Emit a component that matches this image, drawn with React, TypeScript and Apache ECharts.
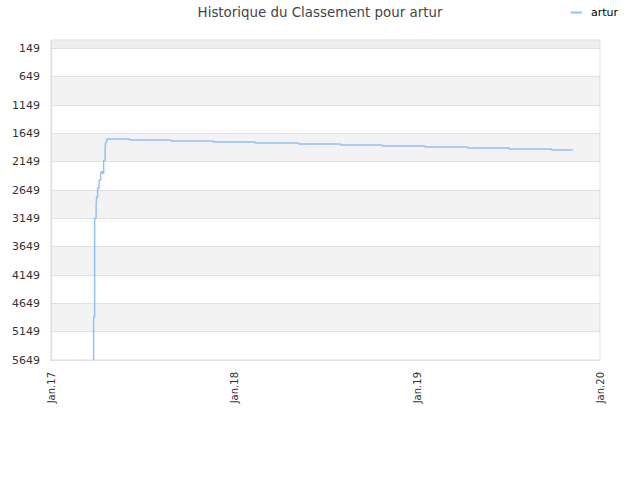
import React, { useEffect, useRef } from "react";
import * as echarts from "echarts";

const dates = [
  "2017-03-27", "2017-03-27", "2017-03-29", "2017-04-01", "2017-04-02", "2017-04-04",
  "2017-04-07", "2017-04-10", "2017-04-11", "2017-04-14", "2017-04-16", "2017-04-19",
  "2017-04-20", "2017-04-22", "2017-06-07", "2017-08-29", "2017-11-21", "2018-02-12",
  "2018-05-10", "2018-08-01", "2018-10-24", "2019-01-17", "2019-04-11", "2019-07-04",
  "2019-09-26", "2019-11-08",
];
const ranks = [
  5649, 4891, 3146, 2917, 2770, 2617,
  2476, 2347, 2326, 2358, 2123, 1912,
  1806, 1748, 1766, 1783, 1801, 1818,
  1836, 1854, 1871, 1889, 1907, 1924,
  1942, 1942,
];
const yTickLabels = [149, 649, 1149, 1649, 2149, 2649, 3149, 3649, 4149, 4649, 5149, 5649];
const yMin = 1;
const xTickLabels = ["Jan.17", "Jan.18", "Jan.19", "Jan.20"];
const xTickDates = ["2017-01-01", "2018-01-01", "2019-01-01", "2020-01-01"];

const FONT = "DejaVu Sans";
const DAY = 86400000;

function dayIndex(d: string): number {
  const [y, m, dd] = d.split("-").map(Number);
  const [y0, m0, d0] = xTickDates[0].split("-").map(Number);
  return Math.round((Date.UTC(y, m - 1, dd) - Date.UTC(y0, m0 - 1, d0)) / DAY);
}

export default function App() {
  const ref = useRef<HTMLDivElement>(null);
  useEffect(() => {
    if (!ref.current) return;
    const chart = echarts.init(ref.current, null, { renderer: "svg" });
    const tickDays = xTickDates.map(dayIndex);
    const bands: any[] = [
      [{ yAxis: yMin, itemStyle: { color: "#eeeeee" } }, { yAxis: yTickLabels[0] }],
    ];
    for (let i = 1; i < yTickLabels.length - 1; i += 2) {
      bands.push([
        { yAxis: yTickLabels[i], itemStyle: { color: "#f3f3f3" } },
        { yAxis: yTickLabels[i + 1] },
      ]);
    }
    const lines = yTickLabels.map((v) => ({ yAxis: v }));
    chart.setOption({
      animation: false,
      textStyle: { fontFamily: FONT },
      title: {
        text: "Historique du Classement pour artur",
        left: "center",
        top: 1,
        textStyle: { fontFamily: FONT, fontSize: 13.4, fontWeight: "normal", color: "#444" },
      },
      legend: {
        right: 17,
        top: 2,
        itemWidth: 11,
        itemHeight: 2,
        textStyle: { fontFamily: FONT, fontSize: 11, color: "#000", padding: [0, 0, 0, 4] },
        data: [{ name: "artur", icon: "rect" }],
      },
      grid: {
        left: 51,
        right: 40,
        top: 40,
        bottom: 120,
        show: true,
        borderColor: "#dddddd",
        borderWidth: 1,
      },
      xAxis: {
        type: "value",
        min: tickDays[0],
        max: tickDays[tickDays.length - 1],
        interval: 365,
        axisLine: { show: true, lineStyle: { color: "#dddddd" } },
        axisTick: { show: false },
        splitLine: { show: false },
        axisLabel: {
          rotate: 90,
          fontSize: 10,
          color: "#333",
          margin: 12,
          showMinLabel: true,
          showMaxLabel: true,
          formatter: (v: number) => {
            const idx = tickDays.findIndex((t) => Math.abs(t - v) < 2);
            return idx >= 0 ? xTickLabels[idx] : "";
          },
        },
      },
      yAxis: {
        type: "value",
        inverse: true,
        min: yMin,
        max: yTickLabels[yTickLabels.length - 1],
        axisLine: { show: true, lineStyle: { color: "#dddddd" } },
        axisTick: { show: false },
        axisLabel: {
          fontSize: 11,
          color: "#333",
          margin: 11,
          customValues: yTickLabels,
          formatter: (v: number) => String(v),
        },
        splitLine: { show: false },
        splitArea: { show: false },
      },
      series: [
        {
          name: "artur",
          type: "line",
          step: "end",
          showSymbol: false,
          symbol: "none",
          color: "#92c1f2",
          lineStyle: { width: 1.5, color: "#92c1f2" },
          data: dates.map((d, i) => [dayIndex(d), ranks[i]]),
          markArea: { silent: true, data: bands, z: -1 },
          markLine: {
            silent: true,
            symbol: "none",
            label: { show: false },
            lineStyle: { color: "#e0e0e0", type: "solid", width: 1 },
            data: lines,
          },
          z: 5,
        },
      ],
    });
    return () => chart.dispose();
  }, []);
  return (
    <div
      ref={ref}
      style={{ position: "absolute", left: 0, top: 0, width: 640, height: 480 }}
    />
  );
}
